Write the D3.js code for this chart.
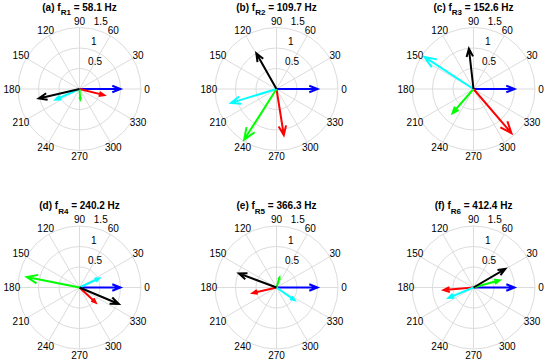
<!DOCTYPE html>
<html><head><meta charset="utf-8">
<script src="https://cdn.jsdelivr.net/npm/d3@7"></script>
<style>
html,body{margin:0;padding:0;background:#fff;}
text{font-family:"Liberation Sans",Arial,Helvetica,sans-serif;}
</style></head>
<body><svg id="chart" width="550" height="363"></svg>
<script>
// ---- data ----
const panelLetters = ["(a)", "(b)", "(c)", "(d)", "(e)", "(f)"];
const modeLabels = ["R1", "R2", "R3", "R4", "R5", "R6"];
const frequencies = ["58.1", "109.7", "152.6", "240.2", "366.3", "412.4"];
const seriesColors = ["#0000ff", "#ff0000", "#00ff00", "#00ffff", "#000000"];
// magnitudes and angles (deg) per series, one entry per panel
const blueMag  = [1, 1, 1, 1, 1, 1];
const blueAng  = [0, 0, 0, 0, 0, 0];
const redMag   = [0.62, 1.14, 1.42, 0.54, 0.60, 0.73];
const redAng   = [346, 279, 310.7, 317, 193, 185];
const greenMag = [0.25, 1.47, 0.78, 1.31, 0.25, 0.66];
const greenAng = [274, 237.5, 229, 168.7, 73, 15.4];
const cyanMag  = [0.64, 1.16, 1.43, 0.53, 0.54, 0.66];
const cyanAng  = [204, 197, 146.8, 25, 325, 202.6];
const blackMag = [1.02, 1.0, 0.99, 1.04, 0.98, 0.9];
const blackAng = [193, 119.5, 96.5, 337.2, 159.5, 30.2];
const radialTicks = [0.5, 1, 1.5];
const angleTicks = [0, 30, 60, 90, 120, 150, 180, 210, 240, 270, 300, 330];
const spokeAngles = [0, 30, 60, 90, 120, 150];

const seriesMag = [blueMag, redMag, greenMag, cyanMag, blackMag];
const seriesAng = [blueAng, redAng, greenAng, cyanAng, blackAng];

// ---- layout ----
const colX = d3.scalePoint().domain([0, 1, 2]).range([79.5, 473.5]);
const rowY = d3.scalePoint().domain([0, 1]).range([89, 287.5]);
const rMax = 1.5;
const r = d3.scaleLinear().domain([0, rMax]).range([0, 61.5]);
const grid = "#dcdcdc";

const svg = d3.select("#chart");
const rad = a => a * Math.PI / 180;

panelLetters.forEach((letter, i) => {
  const cx = colX(i % 3), cy = rowY(Math.floor(i / 3));
  const g = svg.append("g").attr("transform", `translate(${cx},${cy})`);
  const px = (m, a) => r(m) * Math.cos(rad(a));
  const py = (m, a) => -r(m) * Math.sin(rad(a));

  // circles
  g.selectAll("circle.grid").data(radialTicks).join("circle")
    .attr("r", d => r(d)).attr("fill", "none").attr("stroke", grid).attr("stroke-width", 1);
  // spokes
  g.selectAll("line.spoke").data(spokeAngles).join("line")
    .attr("x1", d => px(rMax, d + 180)).attr("y1", d => py(rMax, d + 180))
    .attr("x2", d => px(rMax, d)).attr("y2", d => py(rMax, d))
    .attr("stroke", grid).attr("stroke-width", 1);
  // radial labels
  g.selectAll("text.rt").data(radialTicks).join("text")
    .attr("x", d => px(d + 0.025, 82) + 5.6)
    .attr("y", d => py(d + 0.025, 82) - 2.3)
    .attr("font-size", 10).attr("fill", "#000")
    .text(d => String(d));
  // angle labels
  g.selectAll("text.at").data(angleTicks).join("text")
    .attr("x", d => px(rMax * 1.1, d))
    .attr("y", d => py(rMax * 1.1, d))
    .attr("text-anchor", "middle").attr("dominant-baseline", "central")
    .attr("font-size", 10).attr("fill", "#000")
    .text(d => String(d));

  // arrows (MATLAB compass style)
  seriesMag.forEach((mags, s) => {
    const m = mags[i], a = seriesAng[s][i];
    const c = Math.cos(rad(a)), sn = Math.sin(rad(a));
    const pt = (u, v) => [r(m * (u * c - v * sn)), -r(m * (u * sn + v * c))];
    const tip = pt(1, 0), h1 = pt(0.8, 0.08), h2 = pt(0.8, -0.08);
    const path = d3.path();
    path.moveTo(0, 0); path.lineTo(tip[0], tip[1]);
    path.moveTo(h1[0], h1[1]); path.lineTo(tip[0], tip[1]); path.lineTo(h2[0], h2[1]);
    g.append("path").attr("d", path.toString())
      .attr("fill", "none").attr("stroke", seriesColors[s])
      .attr("stroke-width", 2).attr("stroke-linejoin", "miter").attr("stroke-linecap", "butt");
  });

  // title
  const t = g.append("text").attr("x", 0).attr("y", -78.5)
    .attr("text-anchor", "middle").attr("font-size", 10).attr("font-weight", "bold");
  t.append("tspan").text(letter + " f");
  t.append("tspan").attr("dy", 4.5).attr("font-size", 8).text(modeLabels[i]);
  t.append("tspan").attr("dy", -4.5).text(" = " + frequencies[i] + " Hz");
});
</script></body></html>
